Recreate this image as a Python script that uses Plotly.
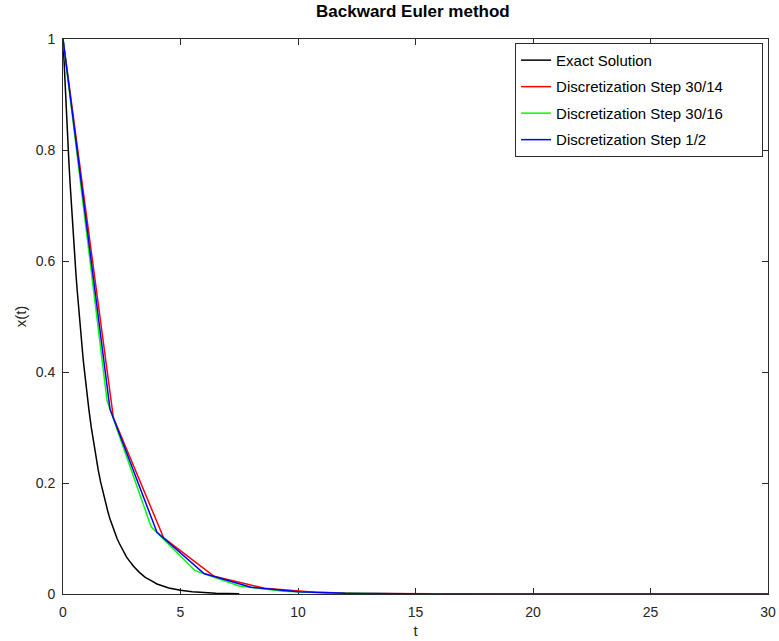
import plotly.graph_objects as go

# Exact solution x(t) of x' = -x, x(0) = 1, sampled on [0, 7.5]
t_exact = [0.0, 0.05, 0.1, 0.15, 0.2, 0.25, 0.3, 0.35, 0.4, 0.45, 0.5,
           0.55, 0.6, 0.65, 0.7, 0.75, 0.8, 0.85, 0.9, 0.95,
           1.0, 1.1, 1.2, 1.3, 1.4, 1.5, 1.6, 1.7, 1.8, 1.9,
           2.0, 2.1, 2.2, 2.3, 2.4, 2.5, 2.6, 2.7, 2.8, 2.9,
           3.0, 3.25, 3.5, 3.75, 4.0, 4.5, 5.0, 5.5, 6.0, 6.5, 7.0, 7.5]
x_exact = [1.000, 0.951, 0.905, 0.861, 0.819, 0.779, 0.741, 0.705, 0.670, 0.638, 0.607,
           0.577, 0.549, 0.522, 0.497, 0.472, 0.449, 0.427, 0.407, 0.387,
           0.368, 0.333, 0.301, 0.273, 0.247, 0.223, 0.202, 0.183, 0.165, 0.150,
           0.135, 0.122, 0.111, 0.100, 0.091, 0.082, 0.074, 0.067, 0.061, 0.055,
           0.050, 0.039, 0.030, 0.024, 0.018, 0.011, 0.0067, 0.0041, 0.0025,
           0.0015, 0.0009, 0.0006]

# Backward Euler, step 30/14
t_h14 = [0.0, 2.143, 4.286, 6.429, 8.571, 10.714, 12.857, 15.0,
         17.143, 19.286, 21.429, 23.571, 25.714, 27.857, 30.0]
x_h14 = [1.0, 0.318, 0.101, 0.032, 0.0103, 0.0033, 0.0010, 0.0003,
         0.0001, 0.0, 0.0, 0.0, 0.0, 0.0, 0.0]

# Backward Euler, step 30/16
t_h16 = [0.0, 1.875, 3.75, 5.625, 7.5, 9.375, 11.25, 13.125, 15.0,
         16.875, 18.75, 20.625, 22.5, 24.375, 26.25, 28.125, 30.0]
x_h16 = [1.0, 0.348, 0.121, 0.042, 0.0146, 0.0051, 0.0018, 0.0006, 0.0002,
         0.0001, 0.0, 0.0, 0.0, 0.0, 0.0, 0.0, 0.0]

# Backward Euler, third run
t_h2 = [0, 2, 4, 6, 8, 10, 12, 14, 16, 18, 20, 22, 24, 26, 28, 30]
x_h2 = [1.0, 0.333, 0.111, 0.037, 0.0123, 0.0041, 0.0014, 0.0005, 0.0002,
        0.0001, 0.0, 0.0, 0.0, 0.0, 0.0, 0.0]

series = [
    ("Exact Solution", t_exact, x_exact, "#000000"),
    ("Discretization Step 30/14", t_h14, x_h14, "#ff0000"),
    ("Discretization Step 30/16", t_h16, x_h16, "#00ff00"),
    ("Discretization Step 1/2", t_h2, x_h2, "#0000ff"),
]

font_family = "Liberation Sans, Arial, sans-serif"
# trailing blank room inside the legend box
legend_pad = "\u00a0" * 8

fig = go.Figure()
for i, (name, tx, xx, color) in enumerate(series):
    fig.add_trace(go.Scatter(
        x=tx, y=xx, mode="lines", name=name + legend_pad,
        line=dict(color=color, width=1.5),
        legendgroup=f"g{i}",
    ))

axis_common = dict(
    showline=True, linecolor="#2b2b2b", linewidth=1, mirror="ticks",
    ticks="inside", ticklen=6, tickcolor="#2b2b2b", tickwidth=1,
    showgrid=False, zeroline=False, layer="below traces", automargin=False,
    tickfont=dict(family=font_family, size=14, color="#262626"),
)

fig.update_xaxes(range=[0, 30], tickvals=[0, 5, 10, 15, 20, 25, 30],
                 ticklabelstandoff=5,
                 title=dict(text="t", font=dict(family=font_family, size=15, color="#262626"),
                            standoff=6),
                 **axis_common)
fig.update_yaxes(range=[0, 1], tickvals=[0, 0.2, 0.4, 0.6, 0.8, 1],
                 ticktext=["0", "0.2", "0.4", "0.6", "0.8", "1"],
                 ticklabelstandoff=4,
                 title=dict(text="x(t)", font=dict(family=font_family, size=15, color="#262626"),
                            standoff=5),
                 **axis_common)

fig.update_layout(
    width=779, height=641,
    margin=dict(l=63, r=11, t=39, b=47),
    paper_bgcolor="white", plot_bgcolor="white",
    title=dict(text="<b>Backward Euler method</b>", x=0.53, xanchor="center",
               y=0.982, yanchor="middle",
               font=dict(family=font_family, size=17, color="#000000")),
    legend=dict(x=0.993, y=0.993, xanchor="right", yanchor="top",
                bgcolor="white", bordercolor="#2b2b2b", borderwidth=1,
                font=dict(family=font_family, size=15, color="#000000"),
                traceorder="grouped", tracegroupgap=4),
    showlegend=True,
)

fig.write_html("out.html")
